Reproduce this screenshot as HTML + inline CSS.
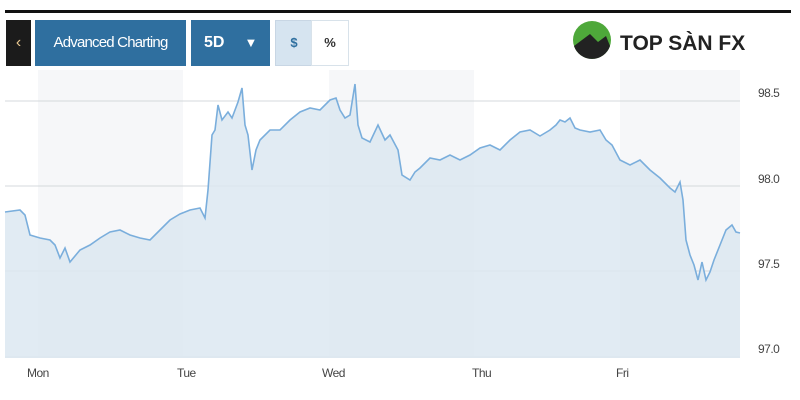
<!DOCTYPE html>
<html><head><style>
body{margin:0;width:800px;height:400px;background:#fff;overflow:hidden;font-family:"Liberation Sans",sans-serif;position:relative}
.a{position:absolute}
.btn{position:absolute;top:20px;height:46px;color:#fff;font-size:16px;line-height:46px}
</style></head><body>
<div class="a" style="left:5px;top:10px;width:786px;height:3px;background:#111"></div>
<div class="btn" style="left:6px;width:25px;background:#1b1b1b;text-align:center;color:#e8c890">&lsaquo;</div>
<div class="btn" style="left:35px;width:151px;background:#2f6f9f;text-align:center;letter-spacing:-0.8px;font-size:15px">Advanced Charting</div>
<div class="btn" style="left:191px;width:79px;background:#2f6f9f;font-weight:bold"><span style="margin-left:13px">5D</span><span style="margin-left:20px;font-size:13px">&#9660;</span></div>
<div class="btn" style="left:275px;width:36px;height:44px;background:#d6e4f0;border:1px solid #c8d6e4;color:#2f6f9f;font-size:13px;text-align:center;line-height:44px;font-weight:bold">$</div>
<div class="btn" style="left:311px;width:36px;height:44px;background:#fff;border:1px solid #d8e2ea;color:#333;font-size:13px;text-align:center;line-height:44px;font-weight:bold">%</div>
<svg class="a" style="left:0;top:0" width="800" height="400">
<rect x="38" y="70" width="145" height="288" fill="#f6f7f9"/>
<rect x="329" y="70" width="145" height="288" fill="#f6f7f9"/>
<rect x="620" y="70" width="120" height="288" fill="#f6f7f9"/>
<g stroke="#d4d8dc" stroke-width="1">
<line x1="5" y1="101" x2="740" y2="101"/><line x1="5" y1="186" x2="740" y2="186"/><line x1="5" y1="271" x2="740" y2="271"/><line x1="5" y1="357" x2="740" y2="357"/>
</g>
<polygon fill="#dce8f1" fill-opacity="0.85" points="5,358 5,212 20,210 25,215 30,235 40,238 50,240 55,245 60,258 65,248 70,262 80,250 90,245 100,238 110,232 120,230 130,235 140,238 150,240 160,230 170,220 180,214 190,210 200,208 205,218 208,190 212,135 215,130 218,105 222,120 228,112 232,118 238,102 242,88 245,125 248,135 252,170 256,150 260,140 270,130 280,130 290,120 300,112 310,108 320,110 330,100 336,98 340,110 345,118 350,115 355,84 358,125 362,138 370,142 378,125 385,140 390,135 398,150 402,175 410,180 415,172 420,168 430,158 440,160 450,155 460,160 470,155 480,148 490,145 500,150 510,140 520,132 530,130 540,136 550,130 556,125 560,120 565,122 570,118 575,128 580,130 590,132 600,130 606,140 612,145 620,160 630,165 640,160 650,170 660,178 670,188 675,192 680,182 683,200 686,240 690,255 694,265 698,280 702,262 706,280 710,272 714,260 720,245 726,230 732,225 736,232 740,233 740,358"/>
<polyline fill="none" stroke="#7aaedc" stroke-width="1.6" points="5,212 20,210 25,215 30,235 40,238 50,240 55,245 60,258 65,248 70,262 80,250 90,245 100,238 110,232 120,230 130,235 140,238 150,240 160,230 170,220 180,214 190,210 200,208 205,218 208,190 212,135 215,130 218,105 222,120 228,112 232,118 238,102 242,88 245,125 248,135 252,170 256,150 260,140 270,130 280,130 290,120 300,112 310,108 320,110 330,100 336,98 340,110 345,118 350,115 355,84 358,125 362,138 370,142 378,125 385,140 390,135 398,150 402,175 410,180 415,172 420,168 430,158 440,160 450,155 460,160 470,155 480,148 490,145 500,150 510,140 520,132 530,130 540,136 550,130 556,125 560,120 565,122 570,118 575,128 580,130 590,132 600,130 606,140 612,145 620,160 630,165 640,160 650,170 660,178 670,188 675,192 680,182 683,200 686,240 690,255 694,265 698,280 702,262 706,280 710,272 714,260 720,245 726,230 732,225 736,232 740,233"/>
<g font-size="12" fill="#444" letter-spacing="-0.5">
<text x="758" y="97">98.5</text><text x="758" y="183">98.0</text><text x="758" y="268">97.5</text><text x="758" y="353">97.0</text>
<text x="27" y="377">Mon</text><text x="177" y="377">Tue</text><text x="322" y="377">Wed</text><text x="472" y="377">Thu</text><text x="616" y="377">Fri</text>
</g>
<circle cx="592" cy="40" r="19" fill="#4ea83a"/>
<path d="M574,46 L590,34 L598,42 L606,36 L610,46 A19,19 0 0 1 574,46Z" fill="#222"/>
<text x="620" y="50" font-size="21" font-weight="bold" fill="#222">TOP SÀN FX</text>
</svg>
</body></html>
